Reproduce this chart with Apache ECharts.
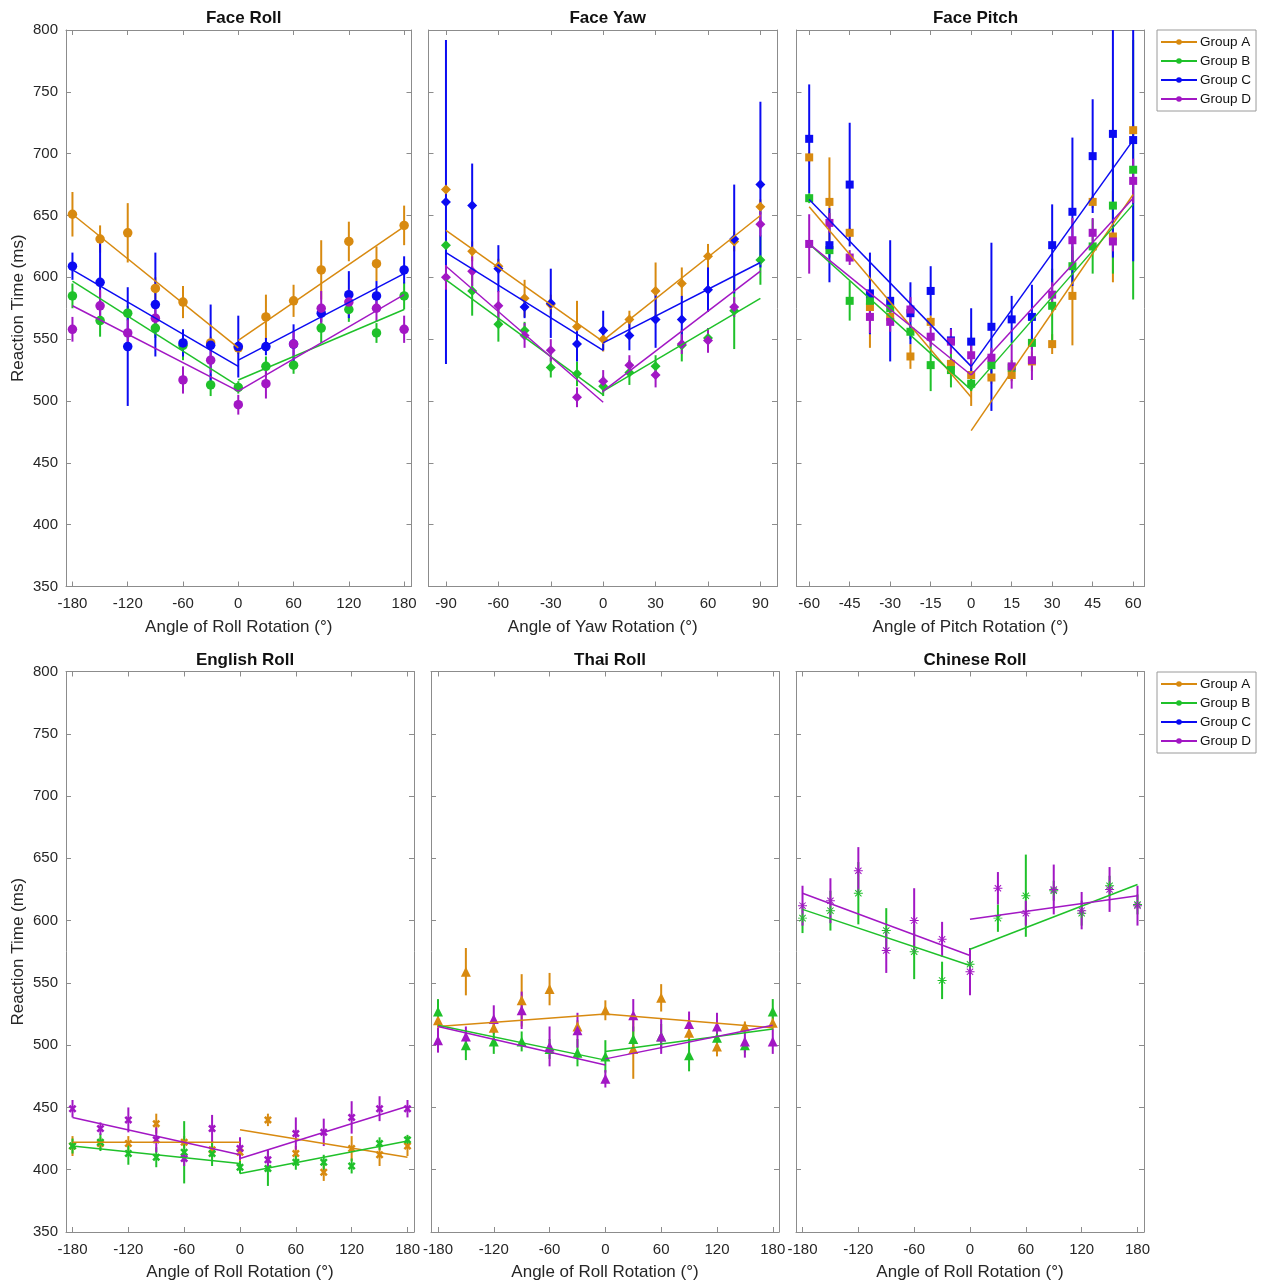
<!DOCTYPE html>
<html><head><meta charset="utf-8">
<script src="https://cdn.jsdelivr.net/npm/echarts@6/dist/echarts.min.js"></script>
<style>html,body{margin:0;padding:0;background:#fff}#c{width:1264px;height:1283px}</style>
</head><body><div id="c"></div>
<script>
// ---------- x positions & tick labels ----------
const rollX = [-180,-150,-120,-90,-60,-30,0,30,60,90,120,150,180];
const yawX = [-90,-75,-60,-45,-30,-15,0,15,30,45,60,75,90];
const pitchX = [-60,-52.5,-45,-37.5,-30,-22.5,-15,-7.5,0,7.5,15,22.5,30,37.5,45,52.5,60];
const rollTicks = [-180,-120,-60,0,60,120,180];
const yawTicks = [-90,-60,-30,0,30,60,90];
const pitchTicks = [-60,-45,-30,-15,0,15,30,45,60];
const groups = ['Group A','Group B','Group C','Group D'];

// ---------- Face Roll ----------
const faceRollA = [651,631,636,591,580,547,543,568,581,606,629,611,642];
const faceRollAErr = [18,11,24,9,13,5,5,18,13,24,16,14,16];
const faceRollAFit = [651,543,549,641];
const faceRollB = [585,565,571,559,545,513,511,528,529,559,574,555,585];
const faceRollBErr = [10,13,6,8,12,9,5,8,7,12,10,8,11];
const faceRollBFit = [597,512,517,574];
const faceRollC = [609,596,544,578,547,545,544,544,546,571,586,585,606];
const faceRollCErr = [11,32,48,42,11,33,25,7,16,7,19,12,11];
const faceRollCFit = [606,528,533,603];
const faceRollD = [558,577,555,567,517,533,497,514,546,575,580,575,558];
const faceRollDErr = [10,13,11,9,11,10,8,12,11,14,10,11,11];
const faceRollDFit = [577,508,508,586];

// ---------- Face Yaw ----------
const faceYawA = [671,621,609,583,578,560,550,566,589,595,617,629,657];
const faceYawAErr = [5,8,6,15,8,21,10,7,23,13,10,8,6];
const faceYawAFit = [638,548,549,650];
const faceYawB = [626,589,562,557,527,522,512,523,528,545,551,573,614];
const faceYawBErr = [6,20,14,7,8,10,8,10,9,13,8,31,20];
const faceYawBFit = [598,505,508,583];
const faceYawC = [661,658,607,576,579,546,557,553,566,566,590,631,675];
const faceYawCErr = [131,34,19,9,28,14,16,12,23,19,18,44,67];
const faceYawCFit = [620,541,547,612];
const faceYawD = [600,605,577,553,541,503,516,529,521,546,549,576,643];
const faceYawDErr = [10,12,12,10,9,8,9,8,10,8,10,8,10];
const faceYawDFit = [609,499,508,605];

// ---------- Face Pitch ----------
const facePitchA = [697,661,636,576,568,536,564,530,521,519,521,532,546,585,661,633,719];
const facePitchAErr = [4,36,4,33,6,10,5,6,25,5,5,8,8,40,5,37,4];
const facePitchAFit = [657,503,476,667];
const facePitchB = [664,622,581,581,575,556,529,525,514,529,527,547,577,609,625,658,687];
const facePitchBErr = [4,6,16,8,6,6,21,14,6,6,6,6,30,13,22,55,105];
const facePitchBFit = [627,509,509,659];
const facePitchC = [712,626,675,587,581,571,589,549,548,560,566,568,626,653,698,716,711];
const facePitchCErr = [44,30,50,33,49,25,20,10,27,68,19,26,33,60,46,100,98];
const facePitchCFit = [663,528,528,711];
const facePitchD = [627,644,616,568,564,574,552,548,537,535,528,533,586,630,636,629,678];
const facePitchDErr = [24,8,6,13,8,10,8,10,10,8,18,16,10,18,12,8,18];
const facePitchDFit = [627,521,521,664];

// ---------- English Roll ----------
const englishA = [419,421,421,437,422,416,414,440,413,398,417,412,419];
const englishAErr = [8,5,6,8,5,7,7,5,6,7,10,9,8];
const englishAFit = [422,422,432,410];
const englishB = [419,422,413,410,414,413,402,401,406,406,403,421,424];
const englishBErr = [6,7,9,8,25,10,5,14,6,6,6,5,4];
const englishBFit = [419,405,397,423];
const englishD = [449,433,440,424,409,433,417,408,429,430,442,449,449];
const englishDErr = [7,5,10,10,6,11,9,8,13,11,13,10,7];
const englishDFit = [442,412,409,451];

// ---------- Thai Roll ----------
const thaiA = [520,559,514,536,545,515,528,497,538,510,499,515,518];
const thaiAErr = [6,19,5,21,13,5,8,24,11,6,8,4,5];
const thaiAFit = [515,525,525,514];
const thaiB = [527,500,503,503,497,494,491,505,507,492,506,500,527];
const thaiBErr = [10,12,10,8,8,11,13,10,10,13,8,6,10];
const thaiBFit = [516,488,495,513];
const thaiD = [504,507,521,528,499,512,473,524,507,517,515,503,503];
const thaiDErr = [10,8,11,15,16,14,7,13,14,10,11,13,10];
const thaiDFit = [515,484,489,516];

// ---------- Chinese Roll ----------
const chineseB = [602,608,622,592,575,552,565,602,620,624,606,628,613];
const chineseBErr = [12,16,25,18,22,15,10,11,33,8,10,8,8];
const chineseBFit = [609,564,577,629];
const chineseD = [612,616,640,576,600,585,559,626,606,625,608,625,612];
const chineseDErr = [16,18,19,18,26,14,19,13,10,20,15,18,16];
const chineseDFit = [622,572,601,620];

// ---------- styling ----------
const COLORS = ['#D88A10','#1FC12A','#0B0BF2','#A217C4'];
const AXIS = '#8c8c8c';
const TXT = '#262626';
const FONT = 'Liberation Sans, Arial, Helvetica, sans-serif';
const SYM_X = 'path://M-1,-0.55L-0.55,-1L0,-0.45L0.55,-1L1,-0.55L0.45,0L1,0.55L0.55,1L0,0.45L-0.55,1L-1,0.55L-0.45,0Z';
const SYM_AST = 'path://M-1,-0.11L1,-0.11L1,0.11L-1,0.11Z M-0.11,-1L0.11,-1L0.11,1L-0.11,1Z M-0.78,-0.62L0.62,0.78L0.78,0.62L-0.62,-0.78Z M0.78,-0.62L-0.62,0.78L-0.78,0.62L0.62,-0.78Z';

const panels = [
  {title:'Face Roll', xName:'Angle of Roll Rotation (°)', x:rollX, ticks:rollTicks, min:-187, max:188,
   grid:{left:66, top:30, width:345.5, height:556.5}, sym:'circle', size:9.5,
   sets:[[0,faceRollA,faceRollAErr,faceRollAFit],[1,faceRollB,faceRollBErr,faceRollBFit],[2,faceRollC,faceRollCErr,faceRollCFit],[3,faceRollD,faceRollDErr,faceRollDFit]]},
  {title:'Face Yaw', xName:'Angle of Yaw Rotation (°)', x:yawX, ticks:yawTicks, min:-100, max:99.5,
   grid:{left:428.5, top:30, width:348.5, height:556.5}, sym:'diamond', size:10,
   sets:[[0,faceYawA,faceYawAErr,faceYawAFit],[1,faceYawB,faceYawBErr,faceYawBFit],[2,faceYawC,faceYawCErr,faceYawCFit],[3,faceYawD,faceYawDErr,faceYawDFit]]},
  {title:'Face Pitch', xName:'Angle of Pitch Rotation (°)', x:pitchX, ticks:pitchTicks, min:-64.7, max:64.2,
   grid:{left:796.5, top:30, width:348, height:556.5}, sym:'rect', size:8,
   sets:[[0,facePitchA,facePitchAErr,facePitchAFit],[1,facePitchB,facePitchBErr,facePitchBFit],[2,facePitchC,facePitchCErr,facePitchCFit],[3,facePitchD,facePitchDErr,facePitchDFit]]},
  {title:'English Roll', xName:'Angle of Roll Rotation (°)', x:rollX, ticks:rollTicks, min:-187, max:187,
   grid:{left:66, top:671.5, width:348, height:560.5}, sym:SYM_X, size:8,
   sets:[[0,englishA,englishAErr,englishAFit],[1,englishB,englishBErr,englishBFit],[3,englishD,englishDErr,englishDFit]]},
  {title:'Thai Roll', xName:'Angle of Roll Rotation (°)', x:rollX, ticks:rollTicks, min:-187.5, max:186.7,
   grid:{left:431, top:671.5, width:348, height:560.5}, sym:'triangle', size:10,
   sets:[[0,thaiA,thaiAErr,thaiAFit],[1,thaiB,thaiBErr,thaiBFit],[3,thaiD,thaiDErr,thaiDFit]]},
  {title:'Chinese Roll', xName:'Angle of Roll Rotation (°)', x:rollX, ticks:rollTicks, min:-187, max:187,
   grid:{left:796, top:671.5, width:348, height:560.5}, sym:SYM_AST, size:9,
   sets:[[1,chineseB,chineseBErr,chineseBFit],[3,chineseD,chineseDErr,chineseDFit]]}
];

function errRender(color){
  return function(params, api){
    const x = api.value(0), lo = api.value(1), hi = api.value(2);
    const a = api.coord([x, lo]), b = api.coord([x, hi]);
    const cs = params.coordSys;
    const clamp = v => Math.min(Math.max(v, cs.y), cs.y + cs.height);
    return {type:'line', shape:{x1:a[0], y1:clamp(a[1]), x2:b[0], y2:clamp(b[1])},
            style:{stroke:color, lineWidth:2}};
  };
}

const grids = [], xAxes = [], yAxes = [], titles = [], series = [];

panels.forEach((p, i) => {
  grids.push(Object.assign({containLabel:false}, p.grid));
  const tickStyle = {lineStyle:{color:AXIS, width:1}};
  xAxes.push({type:'value', gridIndex:i, min:p.min, max:p.max, position:'bottom',
    axisLine:{show:true, onZero:false, lineStyle:{color:AXIS}},
    axisTick:Object.assign({show:true, inside:true, length:5, customValues:p.ticks}, tickStyle),
    axisLabel:{customValues:p.ticks, fontSize:15, color:TXT, margin:10, fontFamily:FONT, showMinLabel:true, showMaxLabel:true},
    splitLine:{show:false},
    name:p.xName, nameLocation:'middle', nameGap:32,
    nameTextStyle:{fontSize:17, color:TXT, fontFamily:FONT}});
  xAxes.push({type:'value', gridIndex:i, min:p.min, max:p.max, position:'top',
    axisLine:{show:true, onZero:false, lineStyle:{color:AXIS}},
    axisTick:Object.assign({show:true, inside:true, length:5, customValues:p.ticks}, tickStyle),
    axisLabel:{show:false}, splitLine:{show:false}});
  const first = (i % 3 === 0);
  yAxes.push({type:'value', gridIndex:i, min:350, max:800, interval:50, position:'left',
    axisLine:{show:true, onZero:false, lineStyle:{color:AXIS}},
    axisTick:Object.assign({show:true, inside:true, length:5}, tickStyle),
    axisLabel:{show:first, fontSize:15, color:TXT, margin:8, fontFamily:FONT},
    splitLine:{show:false},
    name: first ? 'Reaction Time (ms)' : '', nameLocation:'middle', nameGap:39,
    nameTextStyle:{fontSize:17, color:TXT, fontFamily:FONT}});
  yAxes.push({type:'value', gridIndex:i, min:350, max:800, interval:50, position:'right',
    axisLine:{show:true, onZero:false, lineStyle:{color:AXIS}},
    axisTick:Object.assign({show:true, inside:true, length:5}, tickStyle),
    axisLabel:{show:false}, splitLine:{show:false}});
  titles.push({text:p.title, left:p.grid.left + p.grid.width/2, textAlign:'center', top:p.grid.top - 25,
    textStyle:{fontSize:17, fontWeight:'bold', color:'#111', fontFamily:FONT}});

  const xi = 2*i, yi = 2*i;
  // error bars + markers
  p.sets.forEach(([g, mean, err]) => {
    const col = COLORS[g];
    series.push({type:'custom', xAxisIndex:xi, yAxisIndex:yi, silent:true,
      renderItem:errRender(col), encode:{x:0, y:[1,2]},
      data:p.x.map((x,k) => [x, mean[k]-err[k], mean[k]+err[k]])});
    series.push({type:'scatter', xAxisIndex:xi, yAxisIndex:yi, silent:true,
      symbol:p.sym, symbolSize:p.size, itemStyle:{color:col, opacity:1},
      data:p.x.map((x,k) => [x, mean[k]])});
  });
  // fitted lines
  p.sets.forEach(([g, mean, err, fit]) => {
    const col = COLORS[g];
    const x0 = p.x[0], x1 = p.x[p.x.length-1];
    [[[x0, fit[0]],[0, fit[1]]], [[0, fit[2]],[x1, fit[3]]]].forEach(seg => {
      series.push({type:'line', xAxisIndex:xi, yAxisIndex:yi, silent:true, showSymbol:false,
        symbol:'none', lineStyle:{color:col, width:1.5}, data:seg, animation:false});
    });
  });
});

// legend-only series
groups.forEach((g, k) => {
  series.push({type:'line', name:g, xAxisIndex:0, yAxisIndex:0, data:[],
    symbol:'circle', symbolSize:6, itemStyle:{color:COLORS[k]}, lineStyle:{color:COLORS[k], width:2}});
});

const legendBase = {data:groups, orient:'vertical', left:1157, itemWidth:36, itemHeight:7, itemGap:5,
  padding:[5,5,5,3], borderColor:'#9a9a9a', borderWidth:1, backgroundColor:'#fff', selectedMode:false,
  textStyle:{fontSize:13.5, color:'#111', fontFamily:FONT, padding:[0,0,0,-2]}};

const chart = echarts.init(document.getElementById('c'), null, {renderer:'canvas'});
chart.setOption({
  animation:false,
  backgroundColor:'#fff',
  textStyle:{fontFamily:FONT},
  title:titles,
  grid:grids,
  xAxis:xAxes,
  yAxis:yAxes,
  legend:[Object.assign({top:30}, legendBase), Object.assign({top:672}, legendBase)],
  series:series
});
</script></body></html>
